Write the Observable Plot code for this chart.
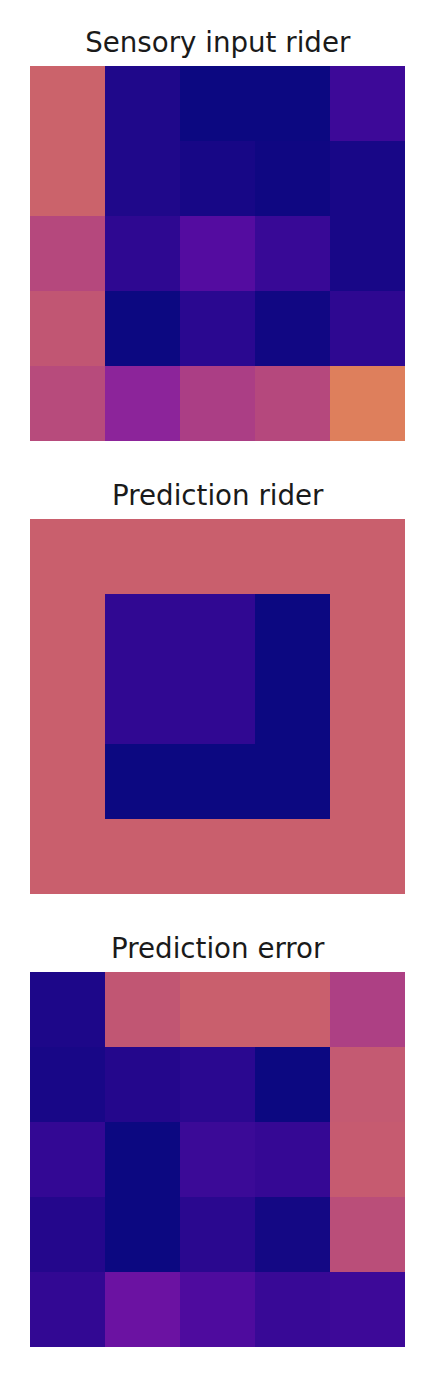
<!DOCTYPE html>
<html>
<head>
<meta charset="utf-8">
<script src="https://cdn.jsdelivr.net/npm/d3@7"></script>
<script src="https://cdn.jsdelivr.net/npm/@observablehq/plot@0.6"></script>
<style>
  html, body { margin: 0; padding: 0; background: #fff; }
  #chart svg { display: block; }
</style>
</head>
<body>
<div id="chart"></div>
<script>
// panel titles, top to bottom
const panels = ["Sensory input rider", "Prediction rider", "Prediction error"];

// grid indices
const cols = [0, 1, 2, 3, 4];
const rows = [0, 1, 2, 3, 4];

// cell values (0..1 on the plasma scale), row by row
const sensoryInput = [
  [0.57, 0.034, 0.00, 0.00, 0.104],
  [0.57, 0.034, 0.019, 0.006, 0.023],
  [0.47, 0.07, 0.165, 0.09, 0.023],
  [0.52, 0.00, 0.062, 0.01, 0.07],
  [0.48, 0.325, 0.43, 0.47, 0.665]
];

const predictionRider = [
  [0.555, 0.555, 0.555, 0.555, 0.555],
  [0.555, 0.072, 0.072, 0.00, 0.555],
  [0.555, 0.072, 0.072, 0.00, 0.555],
  [0.555, 0.00, 0.00, 0.00, 0.555],
  [0.555, 0.555, 0.555, 0.555, 0.555]
];

const predictionError = [
  [0.028, 0.52, 0.555, 0.555, 0.44],
  [0.02, 0.043, 0.06, 0.00, 0.535],
  [0.08, 0.00, 0.10, 0.085, 0.54],
  [0.043, 0.00, 0.058, 0.013, 0.49],
  [0.075, 0.23, 0.15, 0.09, 0.105]
];

const grids = [sensoryInput, predictionRider, predictionError];

// flatten into a table for Plot
const cells = [];
grids.forEach((grid, p) => {
  grid.forEach((row, r) => {
    row.forEach((value, c) => {
      cells.push({panel: panels[p], row: r, col: c, value});
    });
  });
});

// the reference colours look like plasma pushed through an sRGB -> Display P3
// conversion (slightly muted), so redo that on top of d3's plasma
function toLin(v) {
  v /= 255;
  return v <= 0.04045 ? v / 12.92 : Math.pow((v + 0.055) / 1.055, 2.4);
}
function fromLin(v) {
  v = Math.max(0, Math.min(1, v));
  const s = v <= 0.0031308 ? v * 12.92 : 1.055 * Math.pow(v, 1 / 2.4) - 0.055;
  return Math.round(s * 255);
}
function muted(t) {
  const c = d3.rgb(d3.interpolatePlasma(t));
  const r = toLin(c.r), g = toLin(c.g), b = toLin(c.b);
  return d3.rgb(
    fromLin(0.8225 * r + 0.1774 * g),
    fromLin(0.0332 * r + 0.9669 * g),
    fromLin(0.0171 * r + 0.0724 * g + 0.9108 * b)
  ).formatHex();
}

const chart = Plot.plot({
  width: 446,
  height: 1392,
  marginTop: 64,
  marginBottom: 44.7,
  marginLeft: 28,
  marginRight: 39.5,
  x: {domain: cols, padding: 0, axis: null},
  y: {domain: rows, padding: 0, axis: null},
  fy: {domain: panels, paddingInner: 0.1706, paddingOuter: 0, axis: null},
  color: {type: "linear", domain: [0, 1], interpolate: muted},
  marks: [
    Plot.cell(cells, {x: "col", y: "row", fy: "panel", fill: "value"}),
    Plot.text(panels, {
      fy: d => d,
      text: d => d,
      frameAnchor: "top",
      lineAnchor: "bottom",
      dy: -14,
      fontSize: 27.7,
      fill: "#1a1a1a"
    })
  ],
  style: {fontFamily: "DejaVu Sans", background: "#fff"}
});

document.getElementById("chart").appendChild(chart);
</script>
</body>
</html>
